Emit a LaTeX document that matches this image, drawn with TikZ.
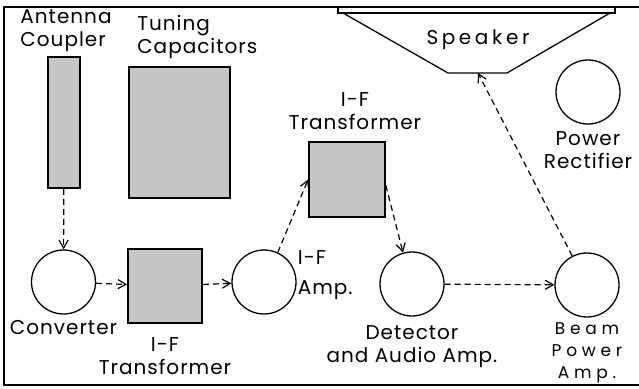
\documentclass[tikz,border=0pt]{standalone}
\usepackage{fontspec}
\usepackage{tikz}
\usetikzlibrary{arrows.meta, positioning}
\newfontfamily\lettering[LetterSpace=5]{Poppins}
\newfontfamily\wideletter[LetterSpace=18]{Poppins}
\newfontfamily\widerletter[LetterSpace=28]{Poppins}
\definecolor{stipple}{HTML}{C6C6C6}

\begin{document}
\begin{tikzpicture}[x=1pt, y=-1pt,
  part/.style={draw, line width=1.8pt, fill=stipple, inner sep=0pt},
  tube/.style={draw, circle, line width=1.3pt, minimum size=64pt, inner sep=0pt},
  lbl/.style={font=\lettering\fontsize{20}{23}\selectfont, align=center, inner sep=1pt},
  small/.style={font=\widerletter\fontsize{17}{22}\selectfont, align=center, inner sep=1pt},
  sig/.style={-{Straight Barb[length=8pt, width=9pt]}, dash pattern=on 6pt off 4pt, line width=1.2pt},
]
\useasboundingbox (0,0) rectangle (639,388);
% chassis outline
\draw[line width=1.3pt] (639,7) -- (4,7) -- (4,385) -- (639,385);

% parts
\node[part, minimum width=32pt, minimum height=131pt] (coupler) at (64,122.5) {};
\node[part, minimum width=101pt, minimum height=131pt] (tuning) at (179.5,132.5) {};
\node[part, minimum width=74pt, minimum height=74pt] (ift1) at (165,286) {};
\node[part, minimum width=76pt, minimum height=75pt] (ift2) at (347,179.5) {};
\node[tube] (conv) at (63.5,282) {};
\node[tube] (ifamp) at (264,282) {};
\node[tube] (det) at (412,284) {};
\node[tube] (beam) at (587,285) {};
\node[tube] (rect) at (588,92) {};

% speaker
\draw[line width=1.3pt] (338,7) -- (338,13) -- (615,13) -- (615,7);
\draw[line width=1.3pt] (343,13) -- (448,73) -- (507,73) -- (610,13);
\coordinate (spk) at (478,73);
\node[lbl, font=\wideletter\fontsize{20}{23}\selectfont] (spklbl) at (478,40) {Speaker};

% labels
\node[lbl, align=left, above=3pt of coupler, xshift=2pt] (couplerlbl) {Antenna\\Coupler};
\node[lbl, align=left, anchor=south west] (tuninglbl) at ([xshift=8pt, yshift=6pt]tuning.north west) {Tuning\\Capacitors};
\node[lbl, above=10pt of ift2, xshift=8pt] (ift2lbl) {I-F\\Transformer};
\node[lbl, below=12pt of ift1] (ift1lbl) {I-F\\Transformer};
\node[lbl, below=5pt of conv] (convlbl) {Converter};
\node[lbl, align=left, right=0pt of ifamp, yshift=7pt] (ifamplbl) {I-F\\[7pt]Amp.};
\node[lbl, below=8pt of det] (detlbl) {Detector\\and Audio Amp.};
\node[small, below=4pt of beam] (beamlbl) {Beam\\Power\\Amp.};
\node[lbl, below=6pt of rect] (rectlbl) {Power\\Rectifier};

% signal path
\draw[sig] (coupler) -- (conv);
\draw[sig] (conv) -- (ift1);
\draw[sig] (ift1) -- (ifamp);
\draw[sig] (ifamp.65) -- (ift2.west);
\draw[sig] ([yshift=-6pt]ift2.east) -- (det.106);
\draw[sig] (det) -- (beam);
\draw[sig] (beam.117) -- (spk);
\end{tikzpicture}
\end{document}
